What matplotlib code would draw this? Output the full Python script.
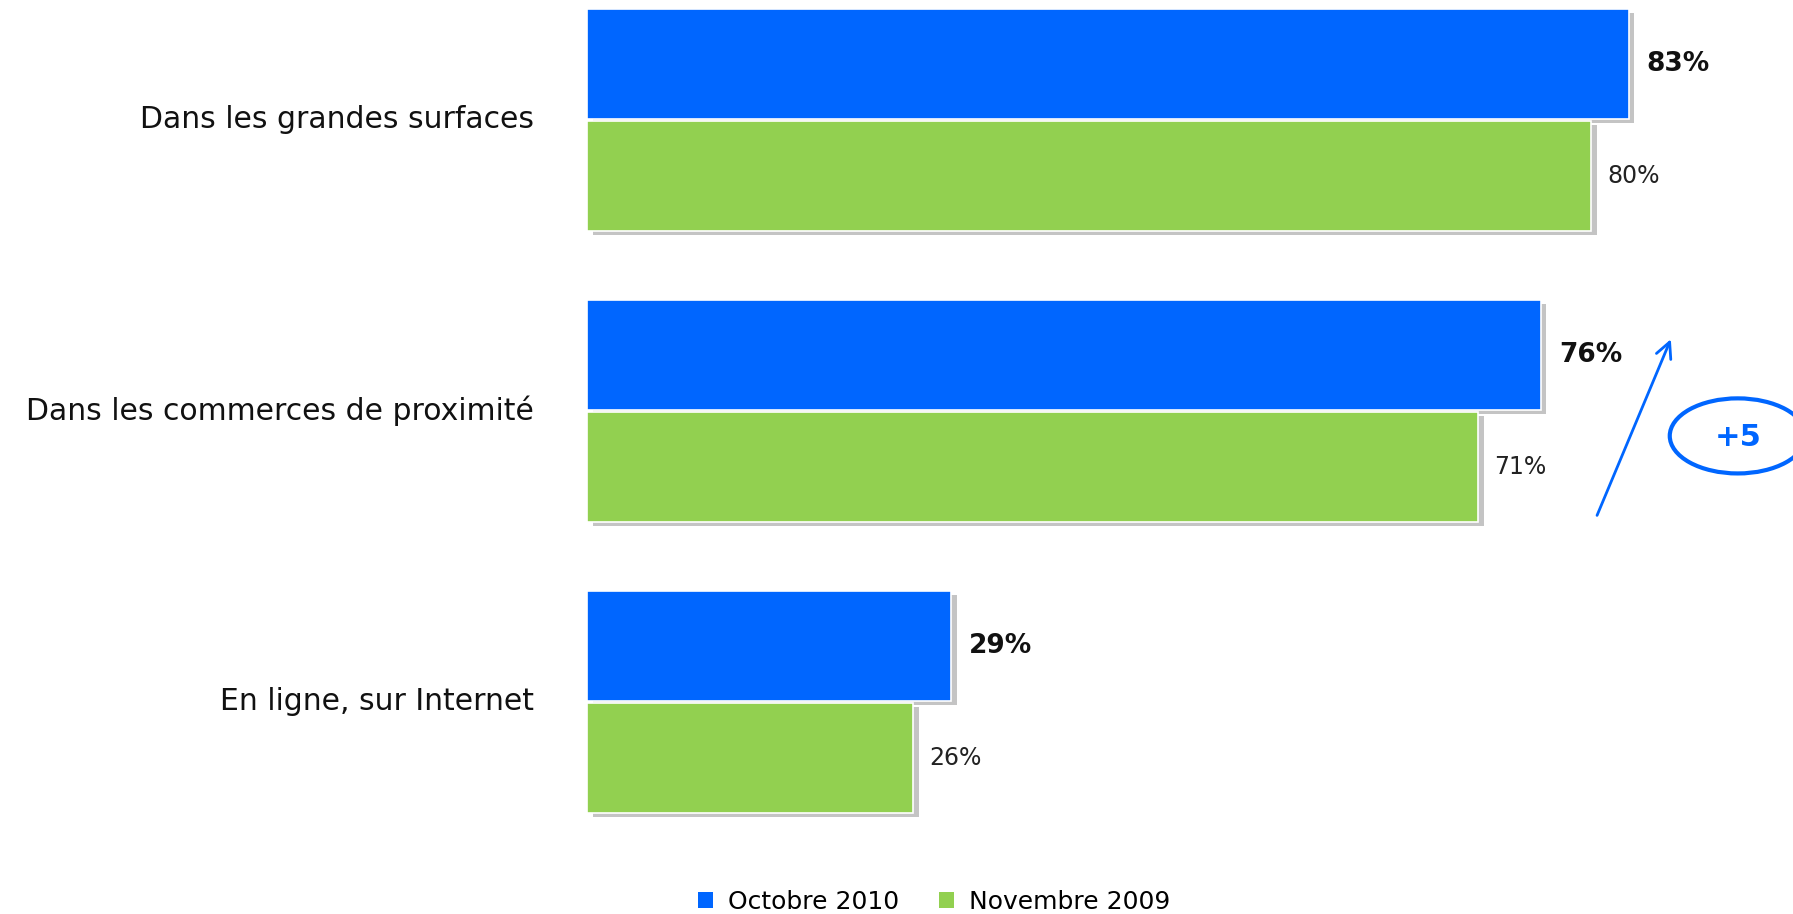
import matplotlib.pyplot as plt
from matplotlib.patches import Ellipse

# Données
categories = ['Dans les grandes surfaces', 'Dans les commerces de proximité', 'En ligne, sur Internet']
oct_2010 = [83, 76, 29]
nov_2009 = [80, 71, 26]
series_labels = ['Octobre 2010', 'Novembre 2009']

BLUE = '#0066ff'
GREEN = '#92d050'
SHADOW = '#c4c4c4'

plt.rcParams['font.family'] = ['DejaVu Sans']

fig = plt.figure(figsize=(17.93, 9.14), dpi=100)
ax = fig.add_axes([0, 0, 1, 1])
ax.set_xlim(-46.77, 96.1)
ax.set_ylim(2.729, -0.412)
ax.axis('off')

h = 0.378
off = h / 2 + 0.0035
ys = list(range(len(categories)))

for i, cat in enumerate(categories):
    yb = ys[i] - off
    yg = ys[i] + off
    # ombres
    ax.barh(yb + 0.015, oct_2010[i], height=h, left=0.45, color=SHADOW, zorder=1)
    ax.barh(yg + 0.015, nov_2009[i], height=h, left=0.45, color=SHADOW, zorder=1)
    ax.barh(yb, oct_2010[i], height=h, color=BLUE, edgecolor='white', linewidth=1.2, zorder=2)
    ax.barh(yg, nov_2009[i], height=h, color=GREEN, edgecolor='white', linewidth=1.2, zorder=2)
    ax.text(oct_2010[i] + 1.45, yb, f'{oct_2010[i]}%', va='center', ha='left',
            fontsize=19, fontweight='bold', color='#111111')
    ax.text(nov_2009[i] + 1.3, yg, f'{nov_2009[i]}%', va='center', ha='left',
            fontsize=17, color='#222222')
    ax.text(-4.2, ys[i], cat, va='center', ha='right', fontsize=21.5, color='#111111')

# flèche et bulle "+5"
ax.annotate('', xy=(86.45, 0.745), xytext=(80.4, 1.368),
            arrowprops=dict(arrowstyle='->', color=BLUE, lw=2, mutation_scale=28))
ax.add_patch(Ellipse((91.7, 1.086), 10.84, 0.258, fill=False, edgecolor=BLUE, lw=3, clip_on=False))
ax.text(91.7, 1.09, '+5', ha='center', va='center', fontsize=22, fontweight='bold', color=BLUE)

# légende
handles = [plt.Rectangle((0, 0), 1, 1, facecolor=BLUE),
           plt.Rectangle((0, 0), 1, 1, facecolor=GREEN)]
fig.legend(handles=handles, labels=series_labels, loc='center', bbox_to_anchor=(0.521, 0.013),
           ncol=2, frameon=False, fontsize=18, handlelength=0.6, handleheight=0.6,
           handletextpad=0.6, columnspacing=1.6)

fig.savefig('out.png', dpi=100)
